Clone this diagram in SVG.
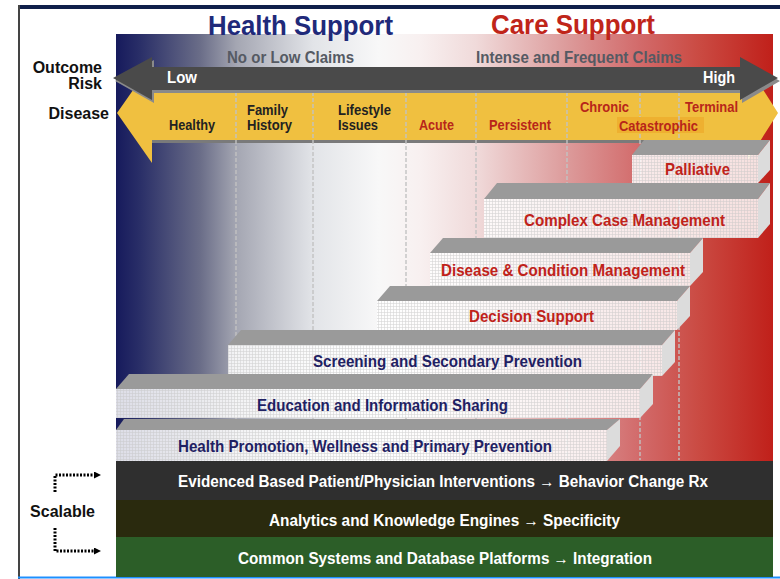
<svg xmlns="http://www.w3.org/2000/svg" width="780" height="579" viewBox="0 0 780 579">
  <defs>
    <linearGradient id="spectrum" gradientUnits="userSpaceOnUse" x1="116" y1="0" x2="773" y2="0">
      <stop offset="0" stop-color="#161a5c"/>
      <stop offset="0.037" stop-color="#2a2f68"/>
      <stop offset="0.128" stop-color="#6a6d88"/>
      <stop offset="0.183" stop-color="#a4a6b2"/>
      <stop offset="0.30" stop-color="#e2e4e8"/>
      <stop offset="0.40" stop-color="#f8f8f8"/>
      <stop offset="0.463" stop-color="#f8f0f0"/>
      <stop offset="0.548" stop-color="#f0dada"/>
      <stop offset="0.688" stop-color="#dc9a9a"/>
      <stop offset="0.798" stop-color="#d26a6a"/>
      <stop offset="0.889" stop-color="#ca4a42"/>
      <stop offset="1" stop-color="#c0201a"/>
    </linearGradient>
    <pattern id="grid" width="3" height="3" patternUnits="userSpaceOnUse">
      <path d="M0,0.5 H3 M0.5,0 V3" stroke="#c4c4c4" stroke-width="0.6" fill="none"/>
    </pattern>
    <marker id="tip" markerWidth="7" markerHeight="7" refX="1" refY="3.5" orient="auto" markerUnits="userSpaceOnUse">
      <path d="M0,0 L7,3.5 L0,7 Z" fill="#000"/>
    </marker>
    <style>
      .sans { font-family: "Liberation Sans", Arial, sans-serif; font-weight: bold; }
      .head { font-size: 28px; }
      .claims { font-size: 17px; fill: #555a63; }
      .side { font-size: 16px; fill: #111; }
      .risk { font-size: 17px; fill: #ffffff; }
      .stage { font-size: 14px; fill: #222; }
      .stage-red { font-size: 14px; fill: #b8261a; }
      .bar-red { font-size: 17px; fill: #c0221a; }
      .bar-blue { font-size: 17px; fill: #1f2163; }
      .band { font-size: 16px; fill: #ffffff; }
      .top { fill: #9a9a9a; }
      .front { fill: #ffffff; fill-opacity: 0.86; }
      .front-grid { fill: url(#grid); opacity: 0.7; }
      .end { fill: #dcdcdc; }
      .divider { stroke: #c2c2c2; stroke-width: 1.4; stroke-dasharray: 4 2; fill: none; }
      .dots { stroke: #000; stroke-width: 3; stroke-dasharray: 2 1.5; fill: none; }
    </style>
  </defs>

  <rect width="780" height="579" fill="#ffffff"/>

  <!-- frame -->
  <line x1="18" y1="7" x2="780" y2="7" stroke="#10204a" stroke-width="4"/>
  <line x1="19" y1="5" x2="19" y2="579" stroke="#444" stroke-width="2"/>
  <line x1="18" y1="577.5" x2="780" y2="577.5" stroke="#1e8fff" stroke-width="2"/>

  <!-- colour spectrum from health (blue) to care (red) -->
  <rect x="116" y="34" width="657" height="427" fill="url(#spectrum)"/>

  <g id="header">
    <text class="sans head" x="208" y="35" fill="#1f2a7a" textLength="185" lengthAdjust="spacingAndGlyphs">Health Support</text>
    <text class="sans head" x="491" y="34" fill="#c0251a" textLength="164" lengthAdjust="spacingAndGlyphs">Care Support</text>
    <text class="sans claims" x="227" y="63" textLength="127" lengthAdjust="spacingAndGlyphs">No or Low Claims</text>
    <text class="sans claims" x="476" y="63" textLength="206" lengthAdjust="spacingAndGlyphs">Intense and Frequent Claims</text>
  </g>

  <g id="axis-labels">
    <text class="sans side" x="102" y="73" text-anchor="end">Outcome</text>
    <text class="sans side" x="102" y="89" text-anchor="end">Risk</text>
    <text class="sans side" x="109" y="119" text-anchor="end">Disease</text>
    <text class="sans side" x="95" y="517" text-anchor="end">Scalable</text>
  </g>

  <!-- disease stage arrow -->
  <g id="disease-axis">
    <polygon points="152,140 760,140 760,143 152,143" fill="#7a7a7a"/>
    <polygon points="117,113 152,63 152,88 748,88 748,66 778,113 748,160 748,140 152,140 152,163" fill="#f0c040"/>
    <rect x="617" y="117" width="87" height="16" fill="#eeb030"/>
  </g>

  <!-- stage dividers -->
  <g id="dividers">
    <line class="divider" x1="236" y1="92" x2="236" y2="460"/>
    <line class="divider" x1="313" y1="92" x2="313" y2="460"/>
    <line class="divider" x1="406" y1="92" x2="406" y2="460"/>
    <line class="divider" x1="476" y1="92" x2="476" y2="460"/>
    <line class="divider" x1="567" y1="92" x2="567" y2="460"/>
    <line class="divider" x1="640" y1="92" x2="640" y2="117"/>
    <line class="divider" x1="640" y1="134" x2="640" y2="460"/>
    <line class="divider" x1="679" y1="92" x2="679" y2="460"/>
  </g>

  <g id="stages">
    <text class="sans stage" x="169" y="130" textLength="46" lengthAdjust="spacingAndGlyphs">Healthy</text>
    <text class="sans stage" x="247" y="115" textLength="41" lengthAdjust="spacingAndGlyphs">Family</text>
    <text class="sans stage" x="247" y="130" textLength="45" lengthAdjust="spacingAndGlyphs">History</text>
    <text class="sans stage" x="338" y="115" textLength="53" lengthAdjust="spacingAndGlyphs">Lifestyle</text>
    <text class="sans stage" x="338" y="130" textLength="40" lengthAdjust="spacingAndGlyphs">Issues</text>
    <text class="sans stage-red" x="419" y="130" textLength="35" lengthAdjust="spacingAndGlyphs">Acute</text>
    <text class="sans stage-red" x="489" y="130" textLength="62" lengthAdjust="spacingAndGlyphs">Persistent</text>
    <text class="sans stage-red" x="580" y="112" textLength="49" lengthAdjust="spacingAndGlyphs">Chronic</text>
    <text class="sans stage-red" x="685" y="112" textLength="53" lengthAdjust="spacingAndGlyphs">Terminal</text>
    <text class="sans stage-red" x="619" y="131" textLength="79" lengthAdjust="spacingAndGlyphs">Catastrophic</text>
  </g>

  <!-- outcome risk arrow -->
  <g id="outcome-risk">
    <polygon points="115,81 154,60 154,70 742,70 742,60 780,81 742,103 742,93 154,93 154,103" fill="#8a8a8a"/>
    <polygon points="113,78 152,57 152,67 740,67 740,57 778,78 740,100 740,90 152,90 152,100" fill="#4a4a4a"/>
    <text class="sans risk" x="167" y="83" textLength="30" lengthAdjust="spacingAndGlyphs">Low</text>
    <text class="sans risk" x="703" y="83" textLength="32" lengthAdjust="spacingAndGlyphs">High</text>
  </g>

  <!-- stacked programme bars, back to front -->
  <g id="palliative">
    <polygon class="top" points="632,155 644,140 770,140 758,155"/>
    <rect class="front" x="632" y="155" width="126" height="28"/>
    <rect class="front-grid" x="632" y="155" width="126" height="28"/>
    <polygon class="end" points="758,155 770,140 770,170 758,183"/>
    <text class="sans bar-red" x="665" y="175" textLength="65" lengthAdjust="spacingAndGlyphs">Palliative</text>
  </g>

  <g id="complex-case-management">
    <polygon class="top" points="484,199 497,183 770,183 758,199"/>
    <rect class="front" x="484" y="199" width="274" height="39"/>
    <rect class="front-grid" x="484" y="199" width="274" height="39"/>
    <polygon class="end" points="758,199 770,183 770,224 758,238"/>
    <text class="sans bar-red" x="524" y="226" textLength="201" lengthAdjust="spacingAndGlyphs">Complex Case Management</text>
  </g>

  <g id="disease-condition-management">
    <polygon class="top" points="430,253 443,238 703,238 690,253"/>
    <rect class="front" x="430" y="253" width="260" height="33"/>
    <rect class="front-grid" x="430" y="253" width="260" height="33"/>
    <polygon class="end" points="690,253 703,238 703,272 690,286"/>
    <text class="sans bar-red" x="441" y="276" textLength="244" lengthAdjust="spacingAndGlyphs">Disease &amp; Condition Management</text>
  </g>

  <g id="decision-support">
    <polygon class="top" points="377,301 390,286 690,286 677,301"/>
    <rect class="front" x="377" y="301" width="300" height="29"/>
    <rect class="front-grid" x="377" y="301" width="300" height="29"/>
    <polygon class="end" points="677,301 690,286 690,316 677,330"/>
    <text class="sans bar-red" x="469" y="322" textLength="125" lengthAdjust="spacingAndGlyphs">Decision Support</text>
  </g>

  <g id="screening-secondary-prevention">
    <polygon class="top" points="228,345 241,330 675,330 662,345"/>
    <rect class="front" x="228" y="345" width="434" height="31"/>
    <rect class="front-grid" x="228" y="345" width="434" height="31"/>
    <polygon class="end" points="662,345 675,330 675,362 662,376"/>
    <text class="sans bar-blue" x="313" y="367" textLength="269" lengthAdjust="spacingAndGlyphs">Screening and Secondary Prevention</text>
  </g>

  <g id="education-information-sharing">
    <polygon class="top" points="116,389 129,374 653,374 640,389"/>
    <rect class="front" x="116" y="389" width="524" height="29"/>
    <rect class="front-grid" x="116" y="389" width="524" height="29"/>
    <polygon class="end" points="640,389 653,374 653,404 640,418"/>
    <text class="sans bar-blue" x="257" y="411" textLength="251" lengthAdjust="spacingAndGlyphs">Education and Information Sharing</text>
  </g>

  <g id="health-promotion">
    <polygon class="top" points="116,430 124,419 620,419 607,430"/>
    <rect class="front" x="116" y="430" width="491" height="31"/>
    <rect class="front-grid" x="116" y="430" width="491" height="31"/>
    <polygon class="end" points="607,430 620,419 620,446 607,461"/>
    <text class="sans bar-blue" x="178" y="452" textLength="374" lengthAdjust="spacingAndGlyphs">Health Promotion, Wellness and Primary Prevention</text>
  </g>

  <!-- scalable foundation layers -->
  <g id="interventions">
    <rect x="116" y="461" width="657" height="39" fill="#2f2f2f"/>
    <text class="sans band" x="178" y="487" textLength="530" lengthAdjust="spacingAndGlyphs">Evidenced Based Patient/Physician Interventions → Behavior Change Rx</text>
  </g>
  <g id="analytics">
    <rect x="116" y="500" width="657" height="37" fill="#2a2a0e"/>
    <text class="sans band" x="269" y="526" textLength="351" lengthAdjust="spacingAndGlyphs">Analytics and Knowledge Engines → Specificity</text>
  </g>
  <g id="platforms">
    <rect x="116" y="537" width="657" height="40" fill="#2c5e28"/>
    <text class="sans band" x="238" y="564" textLength="414" lengthAdjust="spacingAndGlyphs">Common Systems and Database Platforms → Integration</text>
  </g>

  <g id="connectors">
    <path class="dots" d="M55,492 V475 H95" marker-end="url(#tip)"/>
    <path class="dots" d="M55,528 V551 H95" marker-end="url(#tip)"/>
  </g>
</svg>
